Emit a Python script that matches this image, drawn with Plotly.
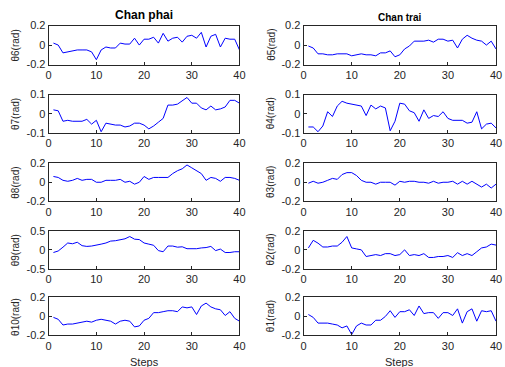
import plotly.graph_objects as go

steps = list(range(1, 41))

theta6 = [0.02, 0.0, -0.08, -0.07, -0.06, -0.05, -0.05, -0.05, -0.07, -0.15,
          -0.05, -0.02, -0.03, -0.03, 0.02, 0.01, 0.01, 0.07, 0.0, 0.06,
          0.06, 0.08, 0.02, 0.12, 0.04, 0.07, 0.08, 0.03, 0.09, 0.10,
          0.07, 0.13, -0.02, 0.09, 0.11, -0.02, 0.07, 0.06, 0.06, -0.05]
theta7 = [0.02, 0.015, -0.04, -0.035, -0.04, -0.04, -0.04, -0.03, -0.055, -0.035,
          -0.095, -0.05, -0.055, -0.06, -0.06, -0.07, -0.065, -0.05, -0.05, -0.06,
          -0.08, -0.065, -0.045, -0.025, 0.045, 0.045, 0.05, 0.07, 0.085, 0.055,
          0.055, 0.03, 0.02, 0.04, 0.02, 0.025, 0.035, 0.07, 0.07, 0.055]
theta8 = [0.06, 0.05, 0.02, 0.01, 0.02, 0.04, 0.02, 0.03, 0.03, 0.0,
          0.0, 0.02, 0.02, 0.02, 0.03, 0.0, 0.01, -0.02, 0.0, 0.06,
          0.03, 0.05, 0.05, 0.05, 0.05, 0.09, 0.12, 0.14, 0.18, 0.15,
          0.12, 0.09, 0.02, 0.05, 0.04, 0.01, 0.05, 0.05, 0.04, 0.02]
theta9 = [-0.07, -0.03, 0.07, 0.18, 0.16, 0.20, 0.11, 0.09, 0.10, 0.12,
          0.15, 0.18, 0.23, 0.24, 0.26, 0.29, 0.35, 0.28, 0.27, 0.18,
          0.15, 0.12, -0.02, -0.05, 0.10, 0.10, 0.07, 0.08, 0.03, 0.03,
          0.03, 0.05, 0.06, 0.09, -0.02, 0.02, -0.07, -0.07, -0.05, -0.05]
theta10 = [-0.01, -0.03, -0.09, -0.08, -0.08, -0.07, -0.06, -0.05, -0.06, -0.04,
           -0.03, -0.04, -0.05, -0.08, -0.05, -0.04, -0.05, -0.11, -0.10, -0.04,
           -0.02, 0.04, 0.04, 0.05, 0.06, 0.06, 0.05, 0.10, 0.09, 0.10,
           0.02, 0.11, 0.14, 0.10, 0.08, 0.07, 0.01, 0.05, -0.02, -0.05]
theta5 = [-0.01, -0.03, -0.09, -0.09, -0.10, -0.10, -0.09, -0.09, -0.09, -0.11,
          -0.10, -0.09, -0.10, -0.10, -0.11, -0.08, -0.08, -0.06, -0.12, -0.10,
          -0.04, -0.01, 0.04, 0.04, 0.04, 0.05, 0.03, 0.06, 0.06, 0.04,
          0.05, -0.03, 0.06, 0.10, 0.07, 0.05, 0.04, 0.0, 0.04, -0.04]
theta4 = [-0.07, -0.07, -0.095, -0.065, 0.01, -0.015, 0.04, 0.065, 0.055, 0.05,
          0.045, 0.04, -0.01, 0.045, 0.025, 0.04, 0.03, -0.09, -0.04, 0.055,
          0.05, 0.015, 0.005, -0.04, 0.02, -0.025, -0.01, -0.015, 0.01, -0.025,
          -0.035, -0.035, -0.035, -0.05, -0.045, 0.01, -0.08, -0.055, -0.05, -0.075]
theta3 = [-0.01, 0.01, -0.01, 0.0, 0.02, 0.04, 0.03, 0.08, 0.10, 0.10,
          0.07, 0.02, 0.0, 0.0, -0.02, 0.0, 0.0, 0.0, -0.03, 0.01,
          0.0, 0.01, 0.01, 0.0, 0.0, -0.01, 0.01, -0.01, 0.0, 0.0,
          0.01, -0.02, 0.01, -0.02, 0.01, -0.02, -0.05, -0.02, -0.06, -0.02]
theta2 = [0.02, 0.10, 0.07, 0.03, 0.03, 0.04, 0.04, 0.08, 0.14, 0.02,
          0.01, 0.0, -0.07, -0.06, -0.05, -0.06, -0.04, -0.04, -0.06, -0.05,
          0.0, -0.06, -0.05, -0.06, -0.04, -0.08, -0.08, -0.07, -0.07, -0.06,
          -0.08, -0.03, -0.06, -0.04, -0.06, -0.02, 0.02, 0.03, 0.06, 0.05]
theta1 = [0.02, -0.01, -0.07, -0.07, -0.07, -0.08, -0.09, -0.12, -0.10, -0.19,
          -0.10, -0.07, -0.09, -0.09, -0.04, -0.04, 0.0, 0.06, -0.01, 0.05,
          0.05, 0.07, 0.01, 0.11, 0.03, 0.04, 0.04, -0.02, 0.04, 0.04,
          0.01, 0.08, -0.07, 0.05, 0.08, -0.05, 0.06, 0.05, 0.06, -0.05]

left_series = [theta6, theta7, theta8, theta9, theta10]
right_series = [theta5, theta4, theta3, theta2, theta1]
left_labels = ["θ6(rad)", "θ7(rad)", "θ8(rad)", "θ9(rad)", "θ10(rad)"]
right_labels = ["θ5(rad)", "θ4(rad)", "θ3(rad)", "θ2(rad)", "θ1(rad)"]
left_ranges = [(-0.2, 0.2), (-0.1, 0.1), (-0.2, 0.2), (-0.5, 0.5), (-0.2, 0.2)]
right_ranges = [(-0.2, 0.2), (-0.1, 0.1), (-0.2, 0.2), (-0.2, 0.2), (-0.2, 0.2)]
x_ticks = [0, 10, 20, 30, 40]
col_titles = ["Chan phai", "Chan trai"]
x_title = "Steps"

W, H = 505, 367
# observed mapping of paper coordinates to screen pixels in the renderer
PX0, PXW = 3.5, 497.5
PY0, PYH = 5.5, 354.5


def px(x):
    return (x - PX0) / PXW


def py(y):
    return 1 - (y - PY0) / PYH


left_x = (49.3, 240.7)
right_x = (305.0, 498.0)
rows_y = [(25, 64), (94, 132), (162.3, 200.7), (230, 268), (296.5, 334.5)]

FONT = "Liberation Sans, Arial, sans-serif"


def fmt(v):
    return "0" if v == 0 else ("%g" % v)


fig = go.Figure()
annotations = []
axis_font = dict(family=FONT, size=11, color="#262626")
idx = 0
for series, labels, ranges, xd, lx in [
        (left_series, left_labels, left_ranges, left_x, 16),
        (right_series, right_labels, right_ranges, right_x, 272)]:
    for r in range(5):
        idx += 1
        xa = "x" if idx == 1 else f"x{idx}"
        ya = "y" if idx == 1 else f"y{idx}"
        fig.add_trace(go.Scatter(x=steps, y=series[r], mode="lines",
                                 line=dict(color="#0000ff", width=1),
                                 xaxis=xa, yaxis=ya, showlegend=False,
                                 hoverinfo="skip"))
        lo, hi = ranges[r]
        yt = [lo, 0, hi]
        y0, y1 = rows_y[r]
        common = dict(showline=True, mirror=True, linecolor="#262626", linewidth=1,
                      ticks="inside", ticklen=3, tickcolor="#262626", showgrid=False,
                      zeroline=False, tickfont=axis_font, fixedrange=True)
        fig.layout["xaxis" if idx == 1 else f"xaxis{idx}"] = dict(
            domain=[px(xd[0]), px(xd[1])], range=[0, 40], anchor=ya,
            tickvals=x_ticks, ticktext=[str(t) for t in x_ticks], **common)
        fig.layout["yaxis" if idx == 1 else f"yaxis{idx}"] = dict(
            domain=[py(y1), py(y0)], range=[lo, hi], anchor=xa,
            tickvals=yt, ticktext=[fmt(v) for v in yt], **common)
        annotations.append(dict(text=labels[r], x=px(lx), y=py((y0 + y1) / 2),
                                xref="paper", yref="paper", textangle=-90,
                                showarrow=False, xanchor="center", yanchor="middle",
                                font=dict(family=FONT, size=10, color="#262626")))

annotations.append(dict(text="<b>%s</b>" % col_titles[0], x=px(145), y=py(14.5),
                        xref="paper", yref="paper", showarrow=False,
                        xanchor="center", yanchor="middle",
                        font=dict(family=FONT, size=12, color="#000")))
annotations.append(dict(text="<b>%s</b>" % col_titles[1], x=px(401.5), y=py(16.5),
                        xref="paper", yref="paper", showarrow=False,
                        xanchor="center", yanchor="middle",
                        font=dict(family=FONT, size=10, color="#000")))
for cx in (145, 401.5):
    annotations.append(dict(text=x_title, x=px(cx), y=py(360.5),
                            xref="paper", yref="paper", showarrow=False,
                            xanchor="center", yanchor="middle",
                            font=dict(family=FONT, size=11, color="#262626")))

fig.update_layout(width=W, height=H, margin=dict(l=0, r=0, t=0, b=0),
                  paper_bgcolor="white", plot_bgcolor="white",
                  annotations=annotations)
fig.write_html("out.html")
